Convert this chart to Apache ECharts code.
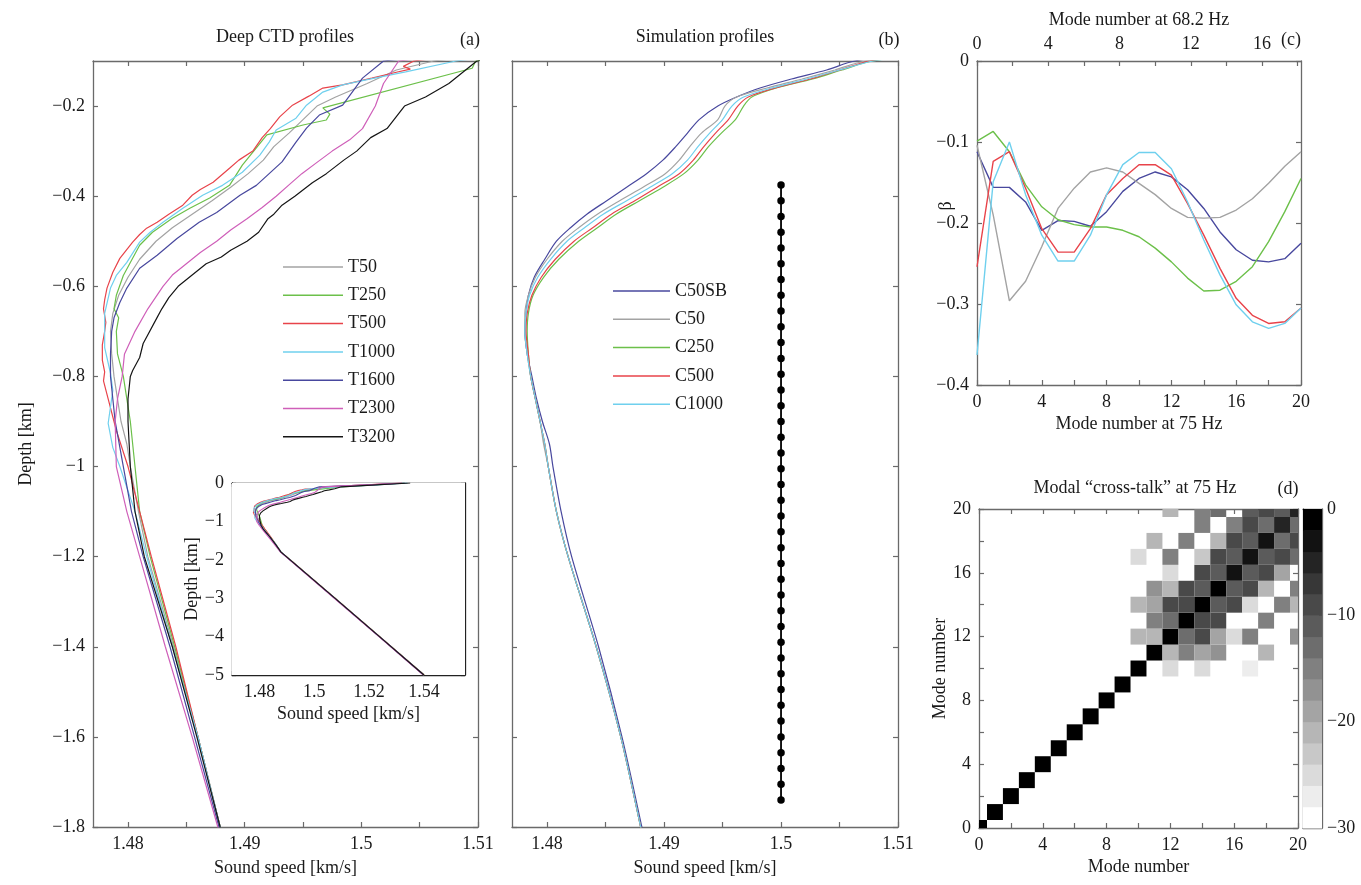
<!DOCTYPE html>
<html>
<head>
<meta charset="utf-8">
<script src="https://cdn.jsdelivr.net/npm/echarts@6/dist/echarts.min.js"></script>
<style>
html,body{margin:0;padding:0;background:#fff;}
#chart{width:1361px;height:885px;}
</style>
</head>
<body>
<div id="chart"></div>
<script>
// ---------- (a) measured CTD profiles: [sound speed km/s, depth km] ----------
const T50 = [[1.5340,0],[1.5220,-0.05],[1.5062,-0.1],[1.5030,-0.12],[1.5005,-0.15],[1.4978,-0.18],[1.4962,-0.2],[1.4950,-0.23],[1.4938,-0.26],[1.4925,-0.29],[1.4916,-0.32],[1.4903,-0.35],[1.4888,-0.38],[1.4872,-0.41],[1.4855,-0.44],[1.4838,-0.47],[1.4824,-0.5],[1.4810,-0.54],[1.4800,-0.58],[1.4792,-0.62],[1.4787,-0.66],[1.4785,-0.7],[1.4786,-0.75],[1.4788,-0.8],[1.4791,-0.85],[1.4794,-0.9],[1.4799,-0.95],[1.4802,-1.0],[1.4809,-1.1],[1.4817,-1.2],[1.4839,-1.4],[1.4860,-1.6],[1.4879,-1.8],[1.4912,-2],[1.5075,-3],[1.5238,-4],[1.5400,-5]];
const T250 = [[1.5330,0],[1.5215,-0.05],[1.5098,-0.1],[1.5095,-0.116],[1.4967,-0.204],[1.4973,-0.218],[1.4970,-0.231],[1.4950,-0.242],[1.4919,-0.264],[1.4910,-0.293],[1.4898,-0.331],[1.4887,-0.376],[1.4870,-0.404],[1.4853,-0.427],[1.4838,-0.449],[1.4821,-0.48],[1.4810,-0.509],[1.4802,-0.547],[1.4796,-0.576],[1.4790,-0.62],[1.4788,-0.65],[1.4792,-0.67],[1.4790,-0.7],[1.4791,-0.75],[1.4796,-0.8],[1.4799,-0.85],[1.4802,-0.9],[1.4806,-1.0],[1.4810,-1.1],[1.4819,-1.2],[1.4840,-1.4],[1.4860,-1.6],[1.4879,-1.8],[1.4913,-2],[1.5076,-3],[1.5239,-4],[1.5401,-5]];
const T500 = [[1.5320,0],[1.5190,-0.05],[1.5045,-0.1],[1.5036,-0.112],[1.5042,-0.118],[1.5030,-0.125],[1.5009,-0.138],[1.4984,-0.153],[1.4967,-0.16],[1.4955,-0.178],[1.4941,-0.198],[1.4930,-0.224],[1.4922,-0.25],[1.4915,-0.27],[1.4907,-0.3],[1.4895,-0.32],[1.4887,-0.338],[1.4873,-0.369],[1.4862,-0.385],[1.4855,-0.398],[1.4847,-0.42],[1.4835,-0.44],[1.4825,-0.458],[1.4816,-0.471],[1.4810,-0.485],[1.4804,-0.502],[1.4793,-0.538],[1.4787,-0.569],[1.4782,-0.604],[1.4780,-0.63],[1.4779,-0.65],[1.4781,-0.68],[1.4780,-0.7],[1.4778,-0.73],[1.4778,-0.764],[1.4780,-0.79],[1.4779,-0.81],[1.4783,-0.85],[1.4790,-0.92],[1.4800,-1.0],[1.4810,-1.1],[1.4820,-1.2],[1.4841,-1.4],[1.4860,-1.6],[1.4879,-1.8],[1.4913,-2],[1.5076,-3],[1.5239,-4],[1.5401,-5]];
const T1000 = [[1.5340,0],[1.5225,-0.05],[1.5081,-0.1],[1.5038,-0.124],[1.5004,-0.142],[1.4984,-0.153],[1.4967,-0.169],[1.4953,-0.198],[1.4944,-0.227],[1.4927,-0.253],[1.4921,-0.28],[1.4913,-0.309],[1.4898,-0.347],[1.4881,-0.376],[1.4864,-0.398],[1.4847,-0.427],[1.4830,-0.458],[1.4819,-0.48],[1.4810,-0.502],[1.4799,-0.547],[1.4790,-0.576],[1.4785,-0.604],[1.4780,-0.66],[1.4780,-0.736],[1.4785,-0.793],[1.4787,-0.831],[1.4783,-0.904],[1.4787,-0.958],[1.4793,-1.0],[1.4806,-1.1],[1.4816,-1.2],[1.4838,-1.4],[1.4860,-1.6],[1.4879,-1.8],[1.4912,-2],[1.5075,-3],[1.5238,-4],[1.5400,-5]];
const T1600 = [[1.5330,0],[1.5205,-0.05],[1.5019,-0.1],[1.5001,-0.138],[1.4984,-0.198],[1.4964,-0.22],[1.4953,-0.249],[1.4944,-0.28],[1.4932,-0.324],[1.4910,-0.376],[1.4896,-0.398],[1.4876,-0.436],[1.4861,-0.458],[1.4842,-0.494],[1.4825,-0.531],[1.4810,-0.56],[1.4799,-0.604],[1.4793,-0.636],[1.4788,-0.67],[1.4786,-0.7],[1.4785,-0.75],[1.4785,-0.8],[1.4787,-0.85],[1.4789,-0.9],[1.4796,-1.0],[1.4803,-1.1],[1.4813,-1.2],[1.4836,-1.4],[1.4857,-1.6],[1.4878,-1.8],[1.4911,-2],[1.5074,-3],[1.5237,-4],[1.5399,-5]];
const T2300 = [[1.5320,0],[1.5195,-0.05],[1.5032,-0.1],[1.5019,-0.15],[1.5012,-0.2],[1.5001,-0.25],[1.4990,-0.275],[1.4975,-0.3],[1.4962,-0.325],[1.4949,-0.35],[1.4938,-0.375],[1.4927,-0.4],[1.4915,-0.425],[1.4902,-0.45],[1.4888,-0.475],[1.4876,-0.5],[1.4862,-0.525],[1.4850,-0.55],[1.4838,-0.575],[1.4830,-0.6],[1.4817,-0.65],[1.4806,-0.7],[1.4797,-0.75],[1.4795,-0.8],[1.4791,-0.85],[1.4789,-0.9],[1.4790,-1.0],[1.4799,-1.1],[1.4810,-1.2],[1.4832,-1.4],[1.4855,-1.6],[1.4877,-1.8],[1.4910,-2],[1.5072,-3],[1.5236,-4],[1.5398,-5]];
const T3200 = [[1.5350,0],[1.5225,-0.05],[1.5099,-0.1],[1.5075,-0.15],[1.5055,-0.18],[1.5037,-0.2],[1.5028,-0.23],[1.5022,-0.25],[1.5008,-0.27],[1.4996,-0.3],[1.4985,-0.32],[1.4970,-0.35],[1.4958,-0.37],[1.4943,-0.4],[1.4932,-0.42],[1.4925,-0.44],[1.4920,-0.45],[1.4912,-0.48],[1.4902,-0.5],[1.4888,-0.52],[1.4880,-0.535],[1.4867,-0.55],[1.4855,-0.575],[1.4843,-0.6],[1.4835,-0.625],[1.4829,-0.65],[1.4825,-0.669],[1.4813,-0.727],[1.4810,-0.758],[1.4804,-0.787],[1.4802,-0.8],[1.4800,-0.85],[1.4800,-0.9],[1.4801,-0.95],[1.4802,-1.0],[1.4806,-1.1],[1.4814,-1.2],[1.4838,-1.4],[1.4859,-1.6],[1.4879,-1.8],[1.4912,-2],[1.5075,-3],[1.5238,-4],[1.5400,-5]];
const ctdNames = ['T50', 'T250', 'T500', 'T1000', 'T1600', 'T2300', 'T3200'];
const ctdProfiles = [T50, T250, T500, T1000, T1600, T2300, T3200];

// ---------- (b) simulation profiles on a common depth grid ----------
const depthC = [0, -0.1, -0.12, -0.14, -0.16, -0.18, -0.2, -0.23, -0.26, -0.29, -0.32, -0.35, -0.38, -0.41, -0.44, -0.47, -0.5, -0.54, -0.58, -0.62, -0.66, -0.7, -0.75, -0.8, -0.85, -0.9, -0.95, -1.0, -1.1, -1.2, -1.4, -1.6, -1.8, -1.9];
const C50SB = [1.5300, 1.5063, 1.5039, 1.5009, 1.4982, 1.4962, 1.4946, 1.4930, 1.4920, 1.4910, 1.4899, 1.4885, 1.4868, 1.4851, 1.4834, 1.4820, 1.4808, 1.4798, 1.4789, 1.4784, 1.4782, 1.4781, 1.4783, 1.4787, 1.4791, 1.4796, 1.4802, 1.4805, 1.4812, 1.4821, 1.4844, 1.4864, 1.4881, 1.4889];
const C50   = [1.5310, 1.5072, 1.5046, 1.5018, 1.4988, 1.4962, 1.4952, 1.4946, 1.4932, 1.4922, 1.4913, 1.4901, 1.4882, 1.4862, 1.4843, 1.4827, 1.4813, 1.4800, 1.4790, 1.4784, 1.4781, 1.4781, 1.4783, 1.4786, 1.4790, 1.4794, 1.4797, 1.4801, 1.4808, 1.4818, 1.4842, 1.4863, 1.4880, 1.4888];
const C250  = [1.5320, 1.5078, 1.5052, 1.5027, 1.4996, 1.4975, 1.4968, 1.4961, 1.4949, 1.4938, 1.4929, 1.4917, 1.4899, 1.4879, 1.4859, 1.4843, 1.4827, 1.4810, 1.4797, 1.4788, 1.4784, 1.4783, 1.4784, 1.4786, 1.4790, 1.4794, 1.4798, 1.4801, 1.4808, 1.4818, 1.4842, 1.4863, 1.4880, 1.4888];
const C500  = [1.5315, 1.5076, 1.5050, 1.5025, 1.4995, 1.4972, 1.4963, 1.4955, 1.4944, 1.4934, 1.4925, 1.4913, 1.4894, 1.4875, 1.4855, 1.4839, 1.4823, 1.4807, 1.4795, 1.4787, 1.4783, 1.4782, 1.4784, 1.4786, 1.4790, 1.4794, 1.4798, 1.4801, 1.4808, 1.4818, 1.4842, 1.4863, 1.4880, 1.4888];
const C1000 = [1.5320, 1.5079, 1.5050, 1.5022, 1.4992, 1.4968, 1.4958, 1.4950, 1.4939, 1.4929, 1.4920, 1.4907, 1.4888, 1.4868, 1.4848, 1.4832, 1.4817, 1.4803, 1.4792, 1.4785, 1.4782, 1.4781, 1.4783, 1.4786, 1.4790, 1.4794, 1.4798, 1.4801, 1.4808, 1.4818, 1.4842, 1.4863, 1.4880, 1.4888];
const simNames = ['C50SB', 'C50', 'C250', 'C500', 'C1000'];
const simProfiles = [C50SB, C50, C250, C500, C1000];

// receiver array (vertical line array) at 1.5 km/s
const arraySpeed = 1.5;
const arrayDepths = [-0.375, -0.410, -0.445, -0.480, -0.515, -0.550, -0.585, -0.620, -0.655, -0.690, -0.725, -0.760, -0.795, -0.830, -0.865, -0.900, -0.935, -0.970, -1.005, -1.040, -1.075, -1.110, -1.145, -1.180, -1.215, -1.250, -1.285, -1.320, -1.355, -1.390, -1.425, -1.460, -1.495, -1.530, -1.565, -1.600, -1.635, -1.670, -1.705, -1.740];

// ---------- (c) beta per mode number at 75 Hz ----------
const modeNumbers = [0, 1, 2, 3, 4, 5, 6, 7, 8, 9, 10, 11, 12, 13, 14, 15, 16, 17, 18, 19, 20];
const betaC50SB = [-0.112, -0.156, -0.156, -0.174, -0.209, -0.197, -0.198, -0.204, -0.186, -0.161, -0.145, -0.137, -0.143, -0.159, -0.182, -0.211, -0.233, -0.246, -0.248, -0.244, -0.225];
const betaC50   = [-0.104, -0.190, -0.296, -0.272, -0.229, -0.182, -0.157, -0.137, -0.132, -0.137, -0.151, -0.165, -0.182, -0.193, -0.194, -0.193, -0.184, -0.170, -0.151, -0.130, -0.112];
const betaC250  = [-0.099, -0.087, -0.112, -0.153, -0.180, -0.196, -0.202, -0.205, -0.205, -0.209, -0.217, -0.231, -0.248, -0.268, -0.284, -0.283, -0.272, -0.254, -0.223, -0.186, -0.145];
const betaC500  = [-0.254, -0.124, -0.112, -0.157, -0.207, -0.236, -0.236, -0.207, -0.165, -0.145, -0.128, -0.128, -0.141, -0.176, -0.215, -0.256, -0.293, -0.314, -0.324, -0.322, -0.305];
const betaC1000 = [-0.363, -0.149, -0.100, -0.165, -0.215, -0.247, -0.247, -0.215, -0.165, -0.128, -0.113, -0.113, -0.133, -0.174, -0.221, -0.264, -0.301, -0.322, -0.330, -0.324, -0.305];
const betaSets = [betaC50SB, betaC50, betaC250, betaC500, betaC1000];

// ---------- (d) modal cross-talk [mode m, mode n, dB]; unlisted cells are below -30 dB ----------
const crossTalk = [
  [0,0,0],[1,1,0],[2,2,0],[3,3,0],[4,4,0],[5,5,0],[6,6,0],[7,7,0],[8,8,0],[9,9,0],
  [10,10,0],[12,10,-26],[14,10,-26],[17,10,-28],
  [11,11,0],[12,11,-22],[13,11,-16],[14,11,-20],[15,11,-18],[18,11,-22],
  [10,12,-22],[11,12,-22],[12,12,0],[13,12,-14],[14,12,-10],[15,12,-20],[16,12,-26],[17,12,-16],[20,12,-18],
  [11,13,-16],[12,13,-14],[13,13,0],[14,13,-10],[15,13,-10],[18,13,-16],
  [10,14,-22],[11,14,-20],[12,14,-10],[13,14,-10],[14,14,0],[15,14,-12],[16,14,-10],[17,14,-26],[19,14,-16],[20,14,-22],
  [11,15,-18],[12,15,-22],[13,15,-10],[14,15,-12],[15,15,0],[16,15,-12],[17,15,-10],[18,15,-22],[20,15,-16],
  [12,16,-26],[14,16,-10],[15,16,-12],[16,16,-3],[17,16,-12],[18,16,-10],[19,16,-20],
  [10,17,-26],[12,17,-16],[14,17,-24],[15,17,-10],[16,17,-12],[17,17,-3],[18,17,-12],[19,17,-10],[20,17,-14],
  [11,18,-22],[13,18,-16],[15,18,-22],[16,18,-10],[17,18,-12],[18,18,-3],[19,18,-14],[20,18,-10],
  [14,19,-16],[16,19,-16],[17,19,-10],[18,19,-14],[19,19,-5],[20,19,-14],
  [12,20,-22],[14,20,-16],[15,20,-14],[17,20,-12],[18,20,-10],[19,20,-12],[20,20,-5]
];
// colour bar levels (dB, lower edge of each 2 dB band)
const colorLevels = [-30, -28, -26, -24, -22, -20, -18, -16, -14, -12, -10, -8, -6, -4, -2];

// ---------- tick labels ----------
const speedTicks = [1.48, 1.485, 1.49, 1.495, 1.5, 1.505, 1.51];
const speedLabels = [1.48, 1.49, 1.5, 1.51];
const depthTicks = [-1.8, -1.6, -1.4, -1.2, -1.0, -0.8, -0.6, -0.4, -0.2];
const insetSpeedTicks = [1.47, 1.48, 1.49, 1.5, 1.51, 1.52, 1.53, 1.54, 1.55];
const insetSpeedLabels = [1.48, 1.5, 1.52, 1.54];
const insetDepthTicks = [-5, -4, -3, -2, -1, 0];
const betaTicks = [-0.4, -0.3, -0.2, -0.1, 0];
const modeTicks = [0, 2, 4, 6, 8, 10, 12, 14, 16, 18, 20];
const modeLabels = [0, 4, 8, 12, 16, 20];
const topModeTicks = [0, 2, 4, 6, 8, 10, 12, 14, 16, 18];
const topModeLabels = [0, 4, 8, 12, 16];
const topModeMax = 20 * 68.2 / 75;
const colorbarLabels = [-30, -20, -10, 0];

// ---------- styling ----------
const FONT = '"Liberation Serif", "DejaVu Serif", serif';
const AX = '#6a6a6a';
const TXT = '#1a1a1a';
const ctdColors = ['#a3a3a3', '#6cc04a', '#e8434a', '#6fd0ee', '#48489e', '#cf5fb9', '#151515'];
const simColors = ['#48489e', '#a3a3a3', '#6cc04a', '#e8434a', '#6fd0ee'];

const fmt = v => String(Math.round(v * 1000) / 1000).replace('-', '\u2212');

function axis(extra, opts) {
  const o = opts || {};
  const base = {
    type: 'value',
    axisLine: { show: true, onZero: false, lineStyle: { color: o.lineColor || AX, width: 1.3 } },
    axisTick: { show: true, inside: true, length: o.tickLen || 5, customValues: o.ticks, lineStyle: { color: o.lineColor || AX, width: 1.2 } },
    axisLabel: o.labels ? { show: true, customValues: o.labels, formatter: fmt, fontFamily: FONT, fontSize: o.fontSize || 18, color: TXT, margin: o.margin || 8 } : { show: false },
    splitLine: { show: false },
    nameTextStyle: { fontFamily: FONT, fontSize: 18, color: TXT },
    nameLocation: 'middle'
  };
  return Object.assign(base, extra);
}

const xAxes = [
  // 0,1: panel (a)
  axis({ gridIndex: 0, position: 'bottom', min: 1.477, max: 1.51, name: 'Sound speed [km/s]', nameGap: 32 }, { ticks: speedTicks, labels: speedLabels }),
  axis({ gridIndex: 0, position: 'top', min: 1.477, max: 1.51 }, { ticks: speedTicks }),
  // 2,3: inset
  axis({ gridIndex: 1, position: 'bottom', min: 1.47, max: 1.555, name: 'Sound speed [km/s]', nameGap: 30 }, { ticks: insetSpeedTicks, labels: insetSpeedLabels, lineColor: '#222', tickLen: 4 }),
  axis({ gridIndex: 1, position: 'top', min: 1.47, max: 1.555 }, { ticks: insetSpeedTicks, lineColor: '#222', tickLen: 4 }),
  // 4,5: panel (b)
  axis({ gridIndex: 2, position: 'bottom', min: 1.477, max: 1.51, name: 'Sound speed [km/s]', nameGap: 32 }, { ticks: speedTicks, labels: speedLabels }),
  axis({ gridIndex: 2, position: 'top', min: 1.477, max: 1.51 }, { ticks: speedTicks }),
  // 6,7: panel (c) bottom (75 Hz) and top (68.2 Hz)
  axis({ gridIndex: 3, position: 'bottom', min: 0, max: 20, name: 'Mode number at 75 Hz', nameGap: 30 }, { ticks: modeTicks, labels: modeLabels }),
  axis({ gridIndex: 3, position: 'top', min: 0, max: topModeMax, name: 'Mode number at 68.2 Hz', nameGap: 32 }, { ticks: topModeTicks, labels: topModeLabels }),
  // 8,9: panel (d)
  axis({ gridIndex: 4, position: 'bottom', min: 0, max: 20, name: 'Mode number', nameGap: 30 }, { ticks: modeTicks, labels: modeLabels }),
  axis({ gridIndex: 4, position: 'top', min: 0, max: 20 }, { ticks: modeTicks }),
  // 10,11: colour bar frame
  axis({ gridIndex: 5, position: 'bottom', min: 0, max: 1, axisTick: { show: false } }, {}),
  axis({ gridIndex: 5, position: 'top', min: 0, max: 1, axisTick: { show: false } }, {})
];

const yAxes = [
  // 0,1: panel (a)
  axis({ gridIndex: 0, position: 'left', min: -1.8, max: -0.1, name: 'Depth [km]', nameGap: 58 }, { ticks: depthTicks, labels: depthTicks }),
  axis({ gridIndex: 0, position: 'right', min: -1.8, max: -0.1 }, { ticks: depthTicks }),
  // 2,3: inset
  axis({ gridIndex: 1, position: 'left', min: -5, max: 0, name: 'Depth [km]', nameGap: 28 }, { ticks: insetDepthTicks, labels: insetDepthTicks, lineColor: '#222', tickLen: 4 }),
  axis({ gridIndex: 1, position: 'right', min: -5, max: 0 }, { ticks: insetDepthTicks, lineColor: '#222', tickLen: 4 }),
  // 4,5: panel (b)
  axis({ gridIndex: 2, position: 'left', min: -1.8, max: -0.1 }, { ticks: depthTicks }),
  axis({ gridIndex: 2, position: 'right', min: -1.8, max: -0.1 }, { ticks: depthTicks }),
  // 6,7: panel (c)
  axis({ gridIndex: 3, position: 'left', min: -0.4, max: 0 }, { labels: betaTicks, ticks: betaTicks }),
  axis({ gridIndex: 3, position: 'right', min: -0.4, max: 0 }, { ticks: betaTicks }),
  // 8,9: panel (d)
  axis({ gridIndex: 4, position: 'left', min: 0, max: 20, name: 'Mode number', nameGap: 28 }, { ticks: modeTicks, labels: modeLabels }),
  axis({ gridIndex: 4, position: 'right', min: 0, max: 20 }, { ticks: modeTicks }),
  // 10,11: colour bar
  axis({ gridIndex: 5, position: 'left', min: -30, max: 0, axisTick: { show: false } }, {}),
  axis({ gridIndex: 5, position: 'right', min: -30, max: 0 }, { ticks: [-20, -10], labels: colorbarLabels, tickLen: 3, margin: 5 })
];
yAxes[11].axisLabel.align = 'left';

const series = [];

// (a) main panel and inset
ctdProfiles.forEach((prof, i) => {
  series.push({ type: 'line', name: ctdNames[i], xAxisIndex: 0, yAxisIndex: 0, data: prof, symbol: 'none', clip: true,
    lineStyle: { color: ctdColors[i], width: 1.2 }, itemStyle: { color: ctdColors[i] }, z: 3 });
});
ctdProfiles.forEach((prof, i) => {
  series.push({ type: 'line', name: ctdNames[i], xAxisIndex: 2, yAxisIndex: 2, data: prof, symbol: 'none', clip: true,
    lineStyle: { color: ctdColors[i], width: 1.1 }, itemStyle: { color: ctdColors[i] }, z: 6 });
});

// (b) simulation profiles
simProfiles.forEach((speeds, i) => {
  series.push({ type: 'line', name: simNames[i], xAxisIndex: 4, yAxisIndex: 4,
    data: speeds.map((c, k) => [c, depthC[k]]), symbol: 'none', clip: true, smooth: 0.3,
    lineStyle: { color: simColors[i], width: 1.2 }, itemStyle: { color: simColors[i] }, z: 3 });
});
series.push({ type: 'line', name: 'array', xAxisIndex: 4, yAxisIndex: 4,
  data: arrayDepths.map(d => [arraySpeed, d]), symbol: 'circle', symbolSize: 7.5, showSymbol: true,
  lineStyle: { color: '#000', width: 1.8 }, itemStyle: { color: '#000' }, z: 4 });

// (c) beta vs mode number
betaSets.forEach((b, i) => {
  series.push({ type: 'line', name: simNames[i], xAxisIndex: 6, yAxisIndex: 6,
    data: b.map((v, k) => [modeNumbers[k], v]), symbol: 'none', clip: true,
    lineStyle: { color: simColors[i], width: 1.4 }, itemStyle: { color: simColors[i] }, z: 3 });
});

// (d) cross-talk cells, clipped to the axes box
const heatIndex = series.length;
series.push({
  type: 'custom', name: 'crosstalk', xAxisIndex: 8, yAxisIndex: 8, data: crossTalk,
  renderItem: function (params, api) {
    const m = api.value(0), n = api.value(1);
    const p0 = api.coord([m - 0.5, n + 0.5]);
    const p1 = api.coord([m + 0.5, n - 0.5]);
    const cs = params.coordSys;
    const shape = echarts.graphic.clipRectByRect(
      { x: p0[0], y: p0[1], width: p1[0] - p0[0], height: p1[1] - p0[1] },
      { x: cs.x, y: cs.y, width: cs.width, height: cs.height });
    return shape && { type: 'rect', shape: shape, style: { fill: api.visual('color') } };
  }
});
// colour bar bands
const barIndex = series.length;
series.push({
  type: 'custom', name: 'colorbar', xAxisIndex: 10, yAxisIndex: 10,
  data: colorLevels.map(v => [0, v, v + 1]),
  renderItem: function (params, api) {
    const lo = api.value(1);
    const p0 = api.coord([0, lo + 2]);
    const p1 = api.coord([1, lo]);
    return { type: 'rect', shape: { x: p0[0], y: p0[1], width: p1[0] - p0[0], height: p1[1] - p0[1] + 0.5 }, style: { fill: api.visual('color') } };
  }
});

const pieces = colorLevels.map((lo, i) => {
  const g = Math.round(255 * (1 - i / (colorLevels.length - 1)));
  const p = { gte: lo, color: 'rgb(' + g + ',' + g + ',' + g + ')' };
  if (i < colorLevels.length - 1) p.lt = lo + 2; else p.lte = 0;
  return p;
});

const textEl = (text, x, y, size, extra) => Object.assign({
  type: 'text', x: x, y: y, silent: true,
  style: { text: text, fontFamily: FONT, fontSize: size || 18, fill: TXT, align: 'center', verticalAlign: 'middle' }
}, extra || {});

const legendBase = {
  orient: 'vertical', icon: 'rect', itemHeight: 1.5, itemGap: 8.3, selectedMode: false,
  textStyle: { fontFamily: FONT, fontSize: 18, color: TXT, lineHeight: 20 }
};

const option = {
  animation: false,
  backgroundColor: '#ffffff',
  grid: [
    { left: 93, top: 61, width: 385, height: 766 },
    { left: 232, top: 483, width: 233, height: 192, show: true, backgroundColor: '#ffffff', borderWidth: 0, z: 5 },
    { left: 512, top: 61, width: 386, height: 766 },
    { left: 977, top: 61, width: 324, height: 324 },
    { left: 979, top: 509, width: 319, height: 319 },
    { left: 1303, top: 509, width: 19, height: 319 }
  ],
  xAxis: xAxes,
  yAxis: yAxes,
  visualMap: { type: 'piecewise', show: false, dimension: 2, seriesIndex: [heatIndex, barIndex], pieces: pieces },
  legend: [
    Object.assign({ data: ctdNames, left: 278, top: 252, itemWidth: 60 }, legendBase),
    Object.assign({ data: simNames, left: 608, top: 276, itemWidth: 57 }, legendBase)
  ],
  graphic: [
    textEl('Deep CTD profiles', 285, 37),
    textEl('(a)', 470, 40),
    textEl('Simulation profiles', 705, 37),
    textEl('(b)', 889, 40),
    textEl('(c)', 1291, 40),
    textEl('Modal \u201Ccross-talk\u201D at 75 Hz', 1135, 488),
    textEl('(d)', 1288, 489),
    textEl('\u03B2', 946, 206, 18, { rotation: Math.PI / 2 })
  ],
  series: series
};

const chart = echarts.init(document.getElementById('chart'), null, { renderer: 'canvas' });
chart.setOption(option);
</script>
</body>
</html>
